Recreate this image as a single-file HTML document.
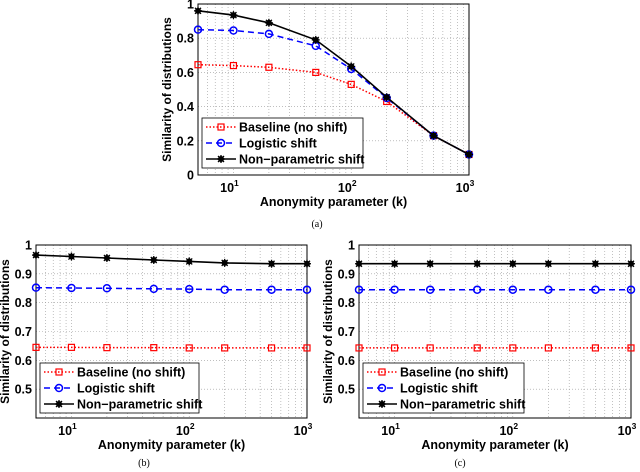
<!DOCTYPE html>
<html><head><meta charset="utf-8"><style>
body{margin:0;background:#fff;width:640px;height:472px;overflow:hidden}
svg{display:block}
text{font-family:"Liberation Sans",sans-serif;font-weight:bold;fill:#000}
.cap{font-family:"Liberation Serif",serif;font-weight:normal}
</style></head><body>
<svg id="s" width="640" height="472" viewBox="0 0 640 472"></svg>
<script>
const kValues=[5,10,20,50,100,200,500,1000];
const aBaseline=[0.645,0.64,0.63,0.60,0.53,0.43,0.23,0.12];
const aLogistic=[0.85,0.845,0.825,0.755,0.62,0.45,0.23,0.12];
const aNonpar=[0.96,0.935,0.89,0.79,0.635,0.455,0.23,0.12];
const bBaseline=[0.645,0.645,0.644,0.644,0.643,0.643,0.643,0.643];
const bLogistic=[0.852,0.851,0.85,0.848,0.847,0.845,0.845,0.845];
const bNonpar=[0.965,0.96,0.955,0.948,0.943,0.938,0.935,0.935];
const cBaseline=[0.643,0.643,0.643,0.643,0.643,0.643,0.643,0.643];
const cLogistic=[0.845,0.845,0.845,0.845,0.845,0.845,0.845,0.845];
const cNonpar=[0.935,0.935,0.935,0.935,0.935,0.935,0.935,0.935];
const aYTicks=[0,0.2,0.4,0.6,0.8,1];
const aYLabels=["0","0.2","0.4","0.6","0.8","1"];
const bYTicks=[0.5,0.6,0.7,0.8,0.9,1];
const bYLabels=["0.5","0.6","0.7","0.8","0.9","1"];
const xDecades=[1,2,3];
const seriesNames=["Baseline (no shift)","Logistic shift","Non\u2212parametric shift"];

const S=document.getElementById('s');
const NS='http://www.w3.org/2000/svg';
function el(t,a,p){const e=document.createElementNS(NS,t);for(const k in a)e.setAttribute(k,a[k]);(p||S).appendChild(e);return e;}

function chart(id,L,R,T,B,ymin,ymax,yt,yl,series,leg,cap,capX,capY){
  const g=el('g',{});
  
  
  const lx0=Math.log10(5),lx1=3;
  const X=v=>L+(Math.log10(v)-lx0)/(lx1-lx0)*(R-L);
  const Y=v=>B-(v-ymin)/(ymax-ymin)*(B-T);
  for(let d=0;d<=3;d++)for(let m=1;m<10;m++){const v=m*Math.pow(10,d);if(v<5||v>1000)continue;
    const x=X(v);const ln=el('line',{x1:x,x2:x,y1:T,y2:B,stroke:'#999','stroke-width':0.6,'stroke-dasharray':'1,2'},g);
    }
  yt.forEach((v,i)=>{const y=Y(v);
    const ln=el('line',{x1:L,x2:R,y1:y,y2:y,stroke:'#999','stroke-width':0.6,'stroke-dasharray':'1,2'},g);
    
    const t=el('text',{x:L-4,y:y+4.5,'text-anchor':'end','font-size':12.5},g);t.textContent=yl[i];
    });
  const fr=el('rect',{x:L,y:T,width:R-L,height:B-T,fill:'none',stroke:'#000','stroke-width':1},g);
  
  xDecades.forEach(d=>{const x=X(Math.pow(10,d));
    const t=el('text',{x:x-4,y:B+17,'text-anchor':'middle','font-size':12.5},g);t.textContent='10';
    const s=el('tspan',{dy:-6,'font-size':8.5},t);s.textContent=d;
    });
  const xt=el('text',{x:(L+R)/2,y:B+31,'text-anchor':'middle','font-size':12.5},g);xt.textContent='Anonymity parameter (k)';
  
  const yx=L-27,ym=(T+B)/2;
  const ytt=el('text',{x:yx,y:ym,'text-anchor':'middle','font-size':12,transform:`rotate(-90 ${yx} ${ym})`},g);ytt.textContent='Similarity of distributions';
  
  const c=el('text',{x:capX,y:capY,'text-anchor':'middle','font-size':10,class:'cap'},g);c.textContent=cap;
  
  const styles=[{c:'#ff0000',d:'1.5,2',m:'sq'},{c:'#0000ff',d:'6,4',m:'ci'},{c:'#000',d:'',m:'st'}];
  function marker(m,x,y,col,par){
    if(m==='sq')return el('rect',{x:x-3,y:y-3,width:6,height:6,fill:'none',stroke:col,'stroke-width':1.2},par);
    if(m==='ci')return el('circle',{cx:x,cy:y,r:3.5,fill:'none',stroke:col,'stroke-width':1.5},par);
    const p=el('g',{},par);
    el('circle',{cx:x,cy:y,r:3,fill:col},p);
    [[0,4],[4,0],[3,3],[3,-3]].forEach(([a,b])=>el('line',{x1:x-a,y1:y-b,x2:x+a,y2:y+b,stroke:col,'stroke-width':1.3},p));
    return p;}
  series.forEach((vals,si)=>{const st=styles[si];
    const sg=el('g',{},g);
    const pts=vals.map((v,i)=>X(kValues[i]).toFixed(1)+','+Y(v).toFixed(1)).join(' ');
    const pl=el('polyline',{points:pts,fill:'none',stroke:st.c,'stroke-width':si===2?1.6:1.5,'stroke-dasharray':st.d},sg);
    
    vals.forEach((v,i)=>{const mk=marker(st.m,X(kValues[i]),Y(v),st.c,sg);
      });});
  const lg=el('g',{},g);
  const [lx,ly,lw,lh]=leg;
  el('rect',{x:lx,y:ly,width:lw,height:lh,fill:'#fff',stroke:'#000','stroke-width':0.8},lg);
  seriesNames.forEach((n,i)=>{const st=styles[i];const yy=ly+9+i*16;
    const e=el('g',{},lg);
    el('line',{x1:lx+4,x2:lx+34,y1:yy,y2:yy,stroke:st.c,'stroke-width':1.5,'stroke-dasharray':st.d},e);
    marker(st.m,lx+19,yy,st.c,e);
    const t=el('text',{x:lx+37,y:yy+4.5,'font-size':12.5},e);t.textContent=n;});
}
chart('a',198,469,4,175,0,1,aYTicks,aYLabels,[aBaseline,aLogistic,aNonpar],[202,118,161,50],'(a)',317,227);
chart('b',36,307,245,418,0.4,1,bYTicks,bYLabels,[bBaseline,bLogistic,bNonpar],[40,363,159,50],'(b)',144,466);
chart('c',359,631,245,418,0.4,1,bYTicks,bYLabels,[cBaseline,cLogistic,cNonpar],[363,363,161,50],'(c)',460,466);
</script>
</body></html>
